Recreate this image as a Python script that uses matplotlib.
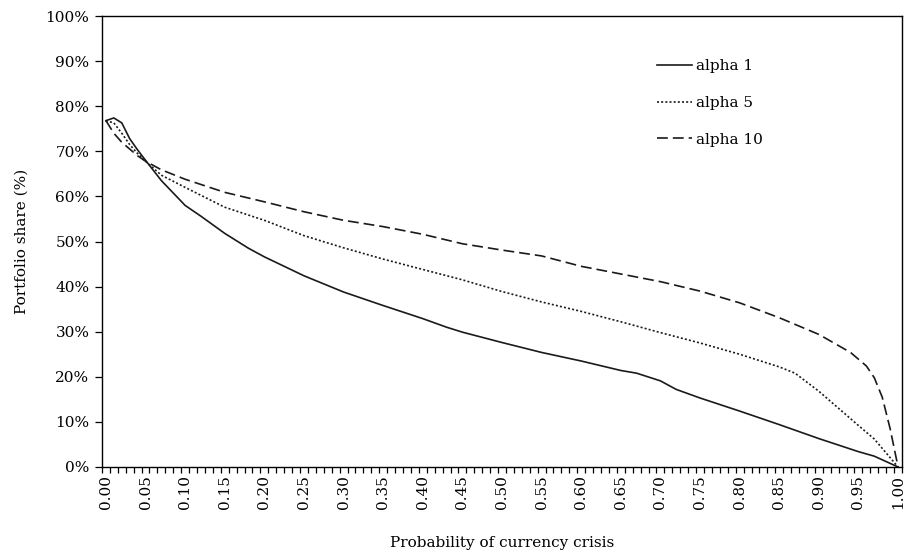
import numpy as np
import matplotlib
matplotlib.use("Agg")
import matplotlib.pyplot as plt
from matplotlib.ticker import FixedLocator, PercentFormatter

# Dati (probabilita' di crisi, quota di portafoglio in %)
p_a1 = [0.00, 0.01, 0.02, 0.03, 0.04, 0.05, 0.07, 0.10, 0.12, 0.15, 0.17, 0.18,
        0.20, 0.25, 0.30, 0.35, 0.40, 0.43, 0.45, 0.50, 0.55, 0.60, 0.65, 0.67,
        0.70, 0.72, 0.75, 0.80, 0.85, 0.90, 0.95, 0.97, 1.00]
alpha1 = [76.8, 77.4, 76.3, 72.8, 70.3, 68.0, 63.5, 58.0, 55.6, 51.8, 49.6, 48.5,
          46.6, 42.4, 38.8, 35.8, 32.9, 31.0, 29.9, 27.6, 25.4, 23.5, 21.4, 20.8,
          19.1, 17.2, 15.3, 12.4, 9.4, 6.3, 3.4, 2.4, 0.0]

p_a5 = [0.00, 0.01, 0.02, 0.03, 0.04, 0.05, 0.07, 0.10, 0.15, 0.20, 0.25, 0.30,
        0.35, 0.40, 0.45, 0.50, 0.55, 0.60, 0.65, 0.70, 0.75, 0.80, 0.85, 0.87,
        0.90, 0.95, 0.97, 1.00]
alpha5 = [76.8, 76.3, 74.0, 71.5, 69.5, 67.8, 64.7, 62.0, 57.6, 54.7, 51.3, 48.6,
          46.1, 43.8, 41.5, 38.9, 36.6, 34.5, 32.2, 29.8, 27.5, 25.0, 22.2, 20.8,
          16.8, 9.2, 6.2, 0.0]

p_a10 = [0.00, 0.01, 0.02, 0.03, 0.04, 0.05, 0.07, 0.10, 0.15, 0.20, 0.25, 0.30,
         0.35, 0.40, 0.45, 0.50, 0.55, 0.60, 0.65, 0.70, 0.75, 0.80, 0.85, 0.90,
         0.94, 0.96, 0.97, 0.98, 0.99, 1.00]
alpha10 = [76.8, 74.0, 72.0, 70.5, 69.0, 67.8, 65.9, 63.8, 60.9, 58.8, 56.6, 54.7,
           53.3, 51.6, 49.5, 48.1, 46.8, 44.5, 42.8, 41.1, 39.0, 36.4, 33.1, 29.4,
           25.4, 22.4, 19.8, 15.5, 8.5, 0.0]

xlabels = ["%.2f" % v for v in np.arange(0, 101, 5) / 100]

plt.rcParams['font.family'] = ['DejaVu Serif']
plt.rcParams['font.size'] = 11

fig = plt.figure(figsize=(9.08, 5.58), dpi=100)
ax = fig.add_axes([0.1123, 0.1631, 0.8811, 0.8082])

ax.plot(p_a1, alpha1, '-', color='#1a1a1a', lw=1.2, label='alpha 1')
ax.plot(p_a5, alpha5, color='#1a1a1a', lw=1.2, ls=(0, (1.2, 1.3)), label='alpha 5')
ax.plot(p_a10, alpha10, color='#1a1a1a', lw=1.2, ls=(0, (6.5, 3)), label='alpha 10')

ax.set_xlim(-0.005, 1.005)
ax.set_ylim(0, 100)
ax.xaxis.set_major_locator(FixedLocator(np.arange(0, 101, 5) / 100))
ax.set_xticklabels(xlabels, rotation=90)
ax.xaxis.set_minor_locator(FixedLocator(np.arange(0, 102) / 100 - 0.005))
ax.tick_params(axis='x', which='major', length=0, pad=6)
ax.tick_params(axis='x', which='minor', length=4, direction='out', width=0.9)
ax.set_yticks(np.arange(0, 101, 10))
ax.yaxis.set_major_formatter(PercentFormatter(decimals=0))
ax.tick_params(axis='y', length=5, width=0.9, pad=4)
for s in ax.spines.values():
    s.set_linewidth(1.0)

ax.set_xlabel('Probability of currency crisis', labelpad=19)
ax.set_ylabel('Portfolio share (%)', labelpad=12)

ax.legend(loc='upper left', bbox_to_anchor=(0.708, 0.919), bbox_transform=fig.transFigure,
          frameon=False, handlelength=2.3, handletextpad=0.3, labelspacing=1.5)

fig.savefig('out.png', dpi=100)
